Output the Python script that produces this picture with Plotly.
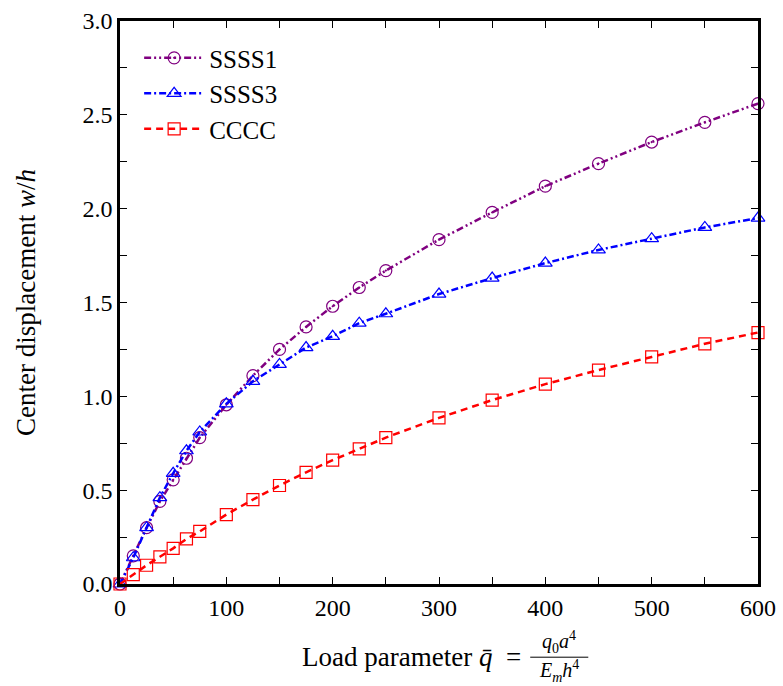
import plotly.graph_objects as go

load = [0, 12.5, 25, 37.5, 50, 62.5, 75, 100, 125, 150, 175, 200, 225, 250,
        300, 350, 400, 450, 500, 550, 600]
ssss1 = [0, 0.15, 0.30, 0.44, 0.555, 0.67, 0.78, 0.955, 1.11, 1.25, 1.37, 1.48,
         1.58, 1.67, 1.835, 1.98, 2.12, 2.24, 2.355, 2.46, 2.56]
ssss3 = [0, 0.14, 0.30, 0.46, 0.59, 0.71, 0.81, 0.96, 1.08, 1.17, 1.26, 1.32,
         1.39, 1.44, 1.545, 1.63, 1.71, 1.78, 1.84, 1.90, 1.95]
cccc = [0, 0.05, 0.10, 0.145, 0.19, 0.24, 0.28, 0.37, 0.45, 0.525, 0.595, 0.66,
        0.72, 0.78, 0.885, 0.98, 1.065, 1.14, 1.21, 1.28, 1.34]

x_ticks = [0, 100, 200, 300, 400, 500, 600]
y_ticks = [0, 0.5, 1.0, 1.5, 2.0, 2.5, 3.0]

FONT = "Liberation Serif"

fig = go.Figure()
fig.add_trace(go.Scatter(
    x=load, y=ssss1, name="SSSS1", mode="lines+markers", cliponaxis=False,
    line=dict(color="#800080", width=2.5, dash="7px,3px,2px,3px,2px,3px"),
    marker=dict(symbol="circle-open-dot", size=12, color="#800080", line=dict(width=1.2))))
fig.add_trace(go.Scatter(
    x=load, y=ssss3, name="SSSS3", mode="lines+markers", cliponaxis=False,
    line=dict(color="#0000ff", width=2.5, dash="7px,3px,2px,3px"),
    marker=dict(symbol="triangle-up-open", size=12, color="#0000ff", line=dict(width=1.2))))
fig.add_trace(go.Scatter(
    x=load, y=cccc, name="CCCC", mode="lines+markers", cliponaxis=False,
    line=dict(color="#ff0000", width=2.5, dash="7px,5px"),
    marker=dict(symbol="square-open", size=12, color="#ff0000", line=dict(width=1.2))))

axis_common = dict(
    showline=True, linecolor="black", linewidth=2.5, mirror="allticks",
    ticks="inside", ticklen=7, tickwidth=1, tickcolor="black",
    showgrid=False, zeroline=False, automargin=False,
    tickfont=dict(family=FONT, size=24, color="black"),
)
fig.update_xaxes(range=[0, 600], tickvals=x_ticks,
                 ticktext=[str(v) for v in x_ticks],
                 minor=dict(dtick=50, ticks="inside", ticklen=7, tickcolor="black"),
                 **axis_common)
fig.update_yaxes(range=[0, 3], tickvals=y_ticks,
                 ticktext=[f"{v:.1f}" for v in y_ticks],
                 minor=dict(dtick=0.25, ticks="inside", ticklen=7, tickcolor="black"),
                 title=dict(text="Center displacement <i>w</i>/<i>h</i>",
                            font=dict(family=FONT, size=27, color="black"), standoff=40),
                 **axis_common)

# x-axis title with stacked fraction
fig.add_annotation(xref="paper", yref="paper", x=0.632, y=-0.13, xanchor="right", yanchor="middle",
                   text="Load parameter <i>q̄</i>  =", showarrow=False,
                   font=dict(family=FONT, size=27, color="black"))
fig.add_annotation(xref="paper", yref="paper", x=0.688, y=-0.103, xanchor="center", yanchor="middle",
                   text="<i>q</i><sub>0</sub><i>a</i><sup>4</sup>", showarrow=False,
                   font=dict(family=FONT, size=20, color="black"))
fig.add_annotation(xref="paper", yref="paper", x=0.688, y=-0.155, xanchor="center", yanchor="middle",
                   text="<i>E</i><sub><i>m</i></sub><i>h</i><sup>4</sup>", showarrow=False,
                   font=dict(family=FONT, size=20, color="black"))
fig.add_shape(type="line", xref="paper", yref="paper", x0=0.643, x1=0.734, y0=-0.130, y1=-0.130,
              line=dict(color="black", width=1))

fig.update_layout(
    width=783, height=686,
    margin=dict(l=120, r=25, t=21, b=102, autoexpand=False),
    paper_bgcolor="white", plot_bgcolor="white",
    showlegend=True,
    legend=dict(x=0.03, y=0.975, xanchor="left", yanchor="top",
                font=dict(family=FONT, size=25, color="black"),
                bgcolor="rgba(255,255,255,0)", itemwidth=60, tracegroupgap=0),
)

fig.write_html("out.html")
